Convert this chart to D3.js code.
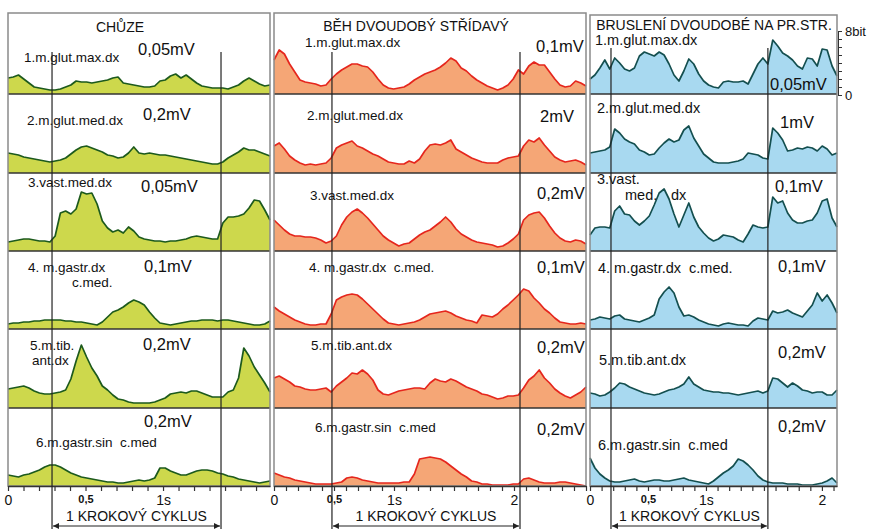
<!DOCTYPE html>
<html>
<head>
<meta charset="utf-8">
<script src="https://cdn.jsdelivr.net/npm/d3@7"></script>
<style>
  body { margin: 0; background: #fff; }
  svg { display: block; }
  text { font-family: "Liberation Sans", Arial, sans-serif; fill: #111; }
</style>
</head>
<body>
<svg id="chart" width="871" height="529"></svg>
<script>
// ---- CHŮZE (walking) ----
const chuzeTitle = 'CHŮZE';
const chuzeDuration = 1.69;          // seconds shown
const chuzeCycle = [0.284, 1.374];   // one step cycle (s)
const chuzeTickValues = [0, 0.5, 1];
const chuzeTickLabels = ['0', '0,5', '1s'];
const chuzeMuscles = [['1.m.glut.max.dx'], ['2.m.glut.med.dx'], ['3.vast.med.dx'],
  ['4. m.gastr.dx', 'c.med.'], ['5.m.tib.', 'ant.dx'], ['6.m.gastr.sin  c.med']];
const chuzeGains = ['0,05mV', '0,2mV', '0,05mV', '0,1mV', '0,2mV', '0,2mV'];
const chuzeSeries = [
  [16,17,19,15,11,7,6,5,4,4,5,7,9,13,12,12,11,12,13,14,16,17,11,10,9,8,7,7,8,13,14,18,20,16,19,15,11,8,7,6,6,6,5,7,9,13,16,13,10,8,9],
  [20,19,18,16,15,14,13,12,11,12,13,15,19,23,26,27,25,23,21,18,17,15,16,20,26,20,19,20,19,18,18,17,16,15,14,13,12,11,10,9,9,11,15,18,21,25,23,23,21,19,17],
  [9,10,11,12,12,11,10,10,9,15,38,40,37,42,59,57,58,47,30,23,19,21,18,24,20,14,12,11,10,10,9,10,10,11,12,14,15,14,13,12,12,28,34,34,35,37,43,51,50,41,31],
  [5,6,6,7,7,8,8,9,9,9,9,8,8,7,7,6,5,4,7,12,17,19,22,26,29,27,24,17,11,6,5,4,5,6,7,8,8,9,9,9,8,9,9,8,7,6,5,4,4,5,8],
  [19,20,21,22,20,17,15,14,14,15,16,18,29,47,63,51,40,32,22,18,13,9,8,6,5,5,5,5,6,8,10,14,15,16,15,17,17,15,13,11,11,11,16,18,30,60,52,41,33,25,16],
  [11,10,9,11,12,14,16,19,21,21,19,16,13,11,9,8,7,6,5,4,4,3,3,4,5,6,5,6,8,18,18,15,13,11,11,13,15,16,16,15,13,12,10,9,7,6,5,4,3,4,5]
];

// ---- BĚH DVOUDOBÝ STŘÍDAVÝ ----
const behTitle = 'BĚH DVOUDOBÝ STŘÍDAVÝ';
const behDuration = 2.6;
const behCycle = [0.483, 2.05];
const behTickValues = [0, 0.5, 1, 2];
const behTickLabels = ['0', '0,5', '1s', '2'];
const behMuscles = [['1.m.glut.max.dx'], ['2.m.glut.med.dx'], ['3.vast.med.dx'],
  ['4. m.gastr.dx  c.med.'], ['5.m.tib.ant.dx'], ['6.m.gastr.sin  c.med']];
const behGains = ['0,1mV', '2mV', '0,2mV', '0,1mV', '0,2mV', '0,2mV'];
const behSeries = [
  [34,44,40,30,22,14,12,11,10,8,9,15,20,24,27,30,30,28,27,22,15,9,6,5,6,7,10,14,17,20,22,24,27,31,36,33,26,23,18,14,11,8,6,4,6,9,15,24,20,28,32,29,29,22,15,9,7,8,13,11,8],
  [27,30,24,17,13,10,8,9,8,9,10,15,25,28,30,32,27,25,22,19,17,14,11,10,9,9,12,10,14,22,28,29,28,30,33,24,21,18,15,13,11,10,10,10,13,15,16,17,27,33,31,35,28,22,16,13,11,12,13,11,8],
  [31,26,21,17,15,15,14,14,13,11,8,10,15,26,34,39,42,38,33,27,21,15,11,8,5,7,8,12,16,19,21,25,29,34,29,22,17,14,11,9,8,7,6,4,5,8,12,17,31,36,38,39,33,25,18,13,10,9,11,10,7],
  [22,18,15,12,9,7,5,4,4,5,5,15,29,32,34,35,34,30,25,20,15,10,6,5,4,5,6,7,9,12,15,16,17,18,16,13,11,9,8,6,14,13,12,15,20,24,29,34,40,38,31,26,20,16,11,7,6,5,5,6,5],
  [30,32,29,26,22,21,19,18,18,19,20,16,22,26,30,35,34,38,34,28,18,14,13,15,17,18,19,20,20,19,25,29,27,26,29,27,24,21,19,17,14,13,11,9,10,12,12,13,20,28,32,38,30,25,19,15,12,10,13,16,21],
  [13,11,9,8,6,5,4,3,2,2,2,2,3,4,8,9,8,6,5,4,3,3,3,3,3,4,4,12,27,28,29,28,27,24,20,16,12,9,5,4,2,2,1,1,1,1,2,2,7,8,6,4,3,3,3,4,4,3,2,1,0]
];

// ---- BRUSLENÍ DVOUDOBÉ NA PR.STR. ----
const bruslTitle = 'BRUSLENÍ DVOUDOBÉ NA PR.STR.';
const bruslDuration = 2.13;
const bruslCycle = [0.181, 1.534];
const bruslTickValues = [0, 0.5, 1, 2];
const bruslTickLabels = ['0', '0,5', '1s', '2'];
const bruslMuscles = [['1.m.glut.max.dx'], ['2.m.glut.med.dx'], ['3.vast.', 'med.', 'dx'],
  ['4. m.gastr.dx  c.med.'], ['5.m.tib.ant.dx'], ['6.m.gastr.sin  c.med']];
const bruslGains = ['0,05mV', '1mV', '0,1mV', '0,1mV', '0,2mV', '0,2mV'];
const bruslSeries = [
  [15,19,26,34,25,36,31,25,23,26,38,42,40,38,42,39,30,19,13,23,35,30,20,13,9,7,6,12,13,12,12,13,10,20,30,36,30,54,48,41,38,34,28,25,36,35,28,45,44,28,18],
  [20,21,22,23,26,44,40,34,31,29,23,21,18,19,25,30,34,31,33,43,47,35,27,19,15,11,10,10,10,11,12,14,20,19,18,15,14,45,40,33,22,23,25,24,26,25,22,27,24,18,20],
  [16,23,24,24,23,40,45,37,36,30,26,30,35,46,58,62,52,37,24,36,48,34,24,18,13,10,12,16,15,14,11,9,17,26,24,23,24,54,48,50,38,31,28,28,30,31,38,50,52,33,24],
  [9,10,12,11,10,13,14,10,9,8,7,9,11,14,30,37,42,36,22,13,14,12,9,7,5,4,3,5,6,5,4,4,3,8,11,10,9,18,16,17,19,16,14,12,18,24,36,28,34,26,16],
  [15,14,12,13,16,20,25,24,21,19,17,15,14,13,14,16,18,19,21,24,31,24,21,18,17,16,16,15,15,14,13,14,15,16,17,15,17,30,29,25,21,25,22,18,17,15,16,16,13,13,18],
  [28,18,12,8,5,4,4,5,6,7,5,4,5,6,6,5,5,6,7,8,6,5,4,3,2,5,9,13,16,20,27,25,21,16,10,6,4,3,3,3,2,2,2,1,1,1,2,3,5,8,3]
];
const bitScale = [0, 8];
const cycleText = '1 KROKOVÝ CYKLUS';

class EmgPanel {
    constructor(_config, _data) {
        this.config = {
            parentElement: _config.parentElement,
            left: _config.left,
            right: _config.right,
            top: _config.top,
            rowBottoms: _config.rowBottoms || [94, 173, 251, 329, 408, 486],
            rowHeight: 78,
            cycleTop: _config.cycleTop || 52,
            fill: _config.fill,
            stroke: _config.stroke,
            titleX: _config.titleX,
            titleY: _config.titleY,
            labelPos: _config.labelPos,
            gainPos: _config.gainPos,
            labelSize: _config.labelSize || 13.5,
            gainSize: _config.gainSize || 16.5
        }
        this.data = _data;
        this.initVis();
    }

    initVis() {
        let vis = this;
        vis.svg = d3.select(vis.config.parentElement);
        vis.chart = vis.svg.append('g');
        vis.xScale = d3.scaleLinear()
            .domain([0, vis.data.duration])
            .range([vis.config.left, vis.config.right]);
        vis.updateVis();
    }

    updateVis() {
        let vis = this;
        const c = vis.config;
        const bottom = c.rowBottoms[c.rowBottoms.length - 1];

        vis.data.series.forEach((s, r) => {
            const base = c.rowBottoms[r];
            const y = d3.scaleLinear().domain([0, c.rowHeight]).range([base, base - c.rowHeight]);
            const t = i => vis.data.duration * i / (s.length - 1);

            vis.chart.append('path')
                .datum(s)
                .attr('d', d3.area().x((d, i) => vis.xScale(t(i))).y0(base).y1(d => y(d)))
                .attr('fill', c.fill);
            vis.chart.append('path')
                .datum(s)
                .attr('d', d3.line().x((d, i) => vis.xScale(t(i))).y(d => y(d)))
                .attr('fill', 'none')
                .attr('stroke', c.stroke)
                .attr('stroke-width', 1.7)
                .attr('stroke-linejoin', 'round');
            if (r < vis.data.series.length - 1) {
                vis.chart.append('line')
                    .attr('x1', c.left).attr('x2', c.right)
                    .attr('y1', base).attr('y2', base)
                    .attr('stroke', '#333').attr('stroke-width', 1.3);
            }

            // muscle label (may span several lines) and gain
            vis.data.muscles[r].forEach((txt, k) => {
                vis.chart.append('text')
                    .attr('x', c.labelPos[r][k][0])
                    .attr('y', c.labelPos[r][k][1])
                    .style('font-size', c.labelSize + 'px')
                    .style('white-space', 'pre')
                    .text(txt);
            });
            vis.chart.append('text')
                .attr('x', c.gainPos[r][0])
                .attr('y', c.gainPos[r][1])
                .style('font-size', c.gainSize + 'px')
                .text(vis.data.gains[r]);
        });

        // frame
        vis.chart.append('rect')
            .attr('x', c.left).attr('y', c.top)
            .attr('width', c.right - c.left).attr('height', bottom - c.top)
            .attr('fill', 'none').attr('stroke', '#8a8a8a').attr('stroke-width', 1.5);

        vis.chart.append('text')
            .attr('x', c.titleX).attr('y', c.titleY)
            .attr('text-anchor', 'middle')
            .style('font-size', '14px')
            .text(vis.data.title);

        // time axis, ticks every 0.1 s
        const tickVals = d3.range(0, Math.floor(vis.data.duration * 10) + 1).map(i => i / 10);
        const labelFor = d => {
            const k = vis.data.tickValues.findIndex(v => Math.abs(v - d) < 1e-6);
            return k < 0 ? '' : vis.data.tickLabels[k];
        };
        const axis = vis.chart.append('g')
            .attr('transform', `translate(0,${bottom})`)
            .call(d3.axisBottom(vis.xScale).tickValues(tickVals).tickSize(5).tickSizeOuter(0).tickPadding(4).tickFormat(labelFor));
        axis.select('.domain').attr('stroke', '#333').attr('stroke-width', 1.5);
        axis.selectAll('.tick line').attr('stroke', '#333').attr('stroke-width', 1.2);
        axis.selectAll('.tick text')
            .style('font-family', '"Liberation Sans", Arial, sans-serif')
            .style('font-size', d => labelFor(d) === '0,5' ? '11px' : '14px')
            .style('font-weight', d => labelFor(d) === '0,5' ? 'bold' : 'normal')
            .attr('fill', '#111');

        // step cycle markers
        vis.data.cycle.forEach(tc => {
            vis.chart.append('line')
                .attr('x1', vis.xScale(tc)).attr('x2', vis.xScale(tc))
                .attr('y1', c.cycleTop).attr('y2', 529)
                .attr('stroke', '#222').attr('stroke-width', 1.2);
        });
        const x0 = vis.xScale(vis.data.cycle[0]), x1 = vis.xScale(vis.data.cycle[1]);
        vis.chart.append('line')
            .attr('x1', x0 + 1).attr('x2', x1 - 1)
            .attr('y1', 526).attr('y2', 526)
            .attr('stroke', '#222').attr('stroke-width', 1.2)
            .attr('marker-start', 'url(#arrowL)')
            .attr('marker-end', 'url(#arrowR)');
        vis.chart.append('text')
            .attr('x', (x0 + x1) / 2).attr('y', 521)
            .attr('text-anchor', 'middle')
            .style('font-size', '14px')
            .text(cycleText);
    }
}

const svg = d3.select('#chart');
const defs = svg.append('defs');
defs.append('marker').attr('id', 'arrowR').attr('viewBox', '0 0 10 10')
    .attr('refX', 10).attr('refY', 5).attr('markerWidth', 9).attr('markerHeight', 6)
    .attr('markerUnits', 'userSpaceOnUse').attr('orient', 'auto')
    .append('path').attr('d', 'M0,0 L10,5 L0,10 z').attr('fill', '#222');
defs.append('marker').attr('id', 'arrowL').attr('viewBox', '0 0 10 10')
    .attr('refX', 0).attr('refY', 5).attr('markerWidth', 9).attr('markerHeight', 6)
    .attr('markerUnits', 'userSpaceOnUse').attr('orient', 'auto')
    .append('path').attr('d', 'M10,0 L0,5 L10,10 z').attr('fill', '#222');

new EmgPanel({
    parentElement: '#chart', left: 8, right: 270, top: 13,
    fill: '#cdd84c', stroke: '#1d5a1d', titleX: 120, titleY: 32,
    labelPos: [[[24, 62]], [[27, 125]], [[28, 187]], [[28, 272], [72, 287]], [[30, 350], [32, 365]], [[36, 447]]],
    gainPos: [[138, 55], [143, 120], [141, 192], [144, 272], [143, 350], [144, 427]]
}, { title: chuzeTitle, duration: chuzeDuration, cycle: chuzeCycle, tickValues: chuzeTickValues,
     tickLabels: chuzeTickLabels, muscles: chuzeMuscles, gains: chuzeGains, series: chuzeSeries });

new EmgPanel({
    parentElement: '#chart', left: 274, right: 586, top: 13,
    fill: '#f5a676', stroke: '#e5261d', titleX: 416, titleY: 31,
    labelPos: [[[305, 47]], [[307, 120]], [[310, 200]], [[309, 272]], [[311, 350]], [[315, 432]]],
    gainPos: [[536, 52], [540, 122], [537, 199], [537, 273], [537, 353], [537, 435]]
}, { title: behTitle, duration: behDuration, cycle: behCycle, tickValues: behTickValues,
     tickLabels: behTickLabels, muscles: behMuscles, gains: behGains, series: behSeries });

new EmgPanel({
    parentElement: '#chart', left: 590, right: 837, top: 15, cycleTop: 48,
    fill: '#a8d9f0', stroke: '#144f4f', titleX: 714, titleY: 30, labelSize: 14.5,
    labelPos: [[[595, 45]], [[597, 113]], [[597, 184], [625, 200], [671, 200]], [[598, 273]], [[599, 365]], [[598, 450]]],
    gainPos: [[770, 90], [780, 128], [775, 192], [778, 272], [778, 358], [778, 432]]
}, { title: bruslTitle, duration: bruslDuration, cycle: bruslCycle, tickValues: bruslTickValues,
     tickLabels: bruslTickLabels, muscles: bruslMuscles, gains: bruslGains, series: bruslSeries });

// 8-bit amplitude scale on the right of the skating panel
const bitY = d3.scaleLinear().domain(bitScale).range([95, 31]);
const bitAxis = svg.append('g')
    .attr('transform', 'translate(838,0)')
    .call(d3.axisRight(bitY).ticks(8).tickSize(4).tickPadding(3)
        .tickFormat(d => d === 8 ? '8bit' : (d === 0 ? '0' : '')));
bitAxis.select('.domain').attr('stroke', '#333');
bitAxis.selectAll('.tick line').attr('stroke', '#333');
bitAxis.selectAll('.tick text')
    .style('font-family', '"Liberation Sans", Arial, sans-serif')
    .style('font-size', '13px').attr('fill', '#111');
</script>
</body>
</html>
